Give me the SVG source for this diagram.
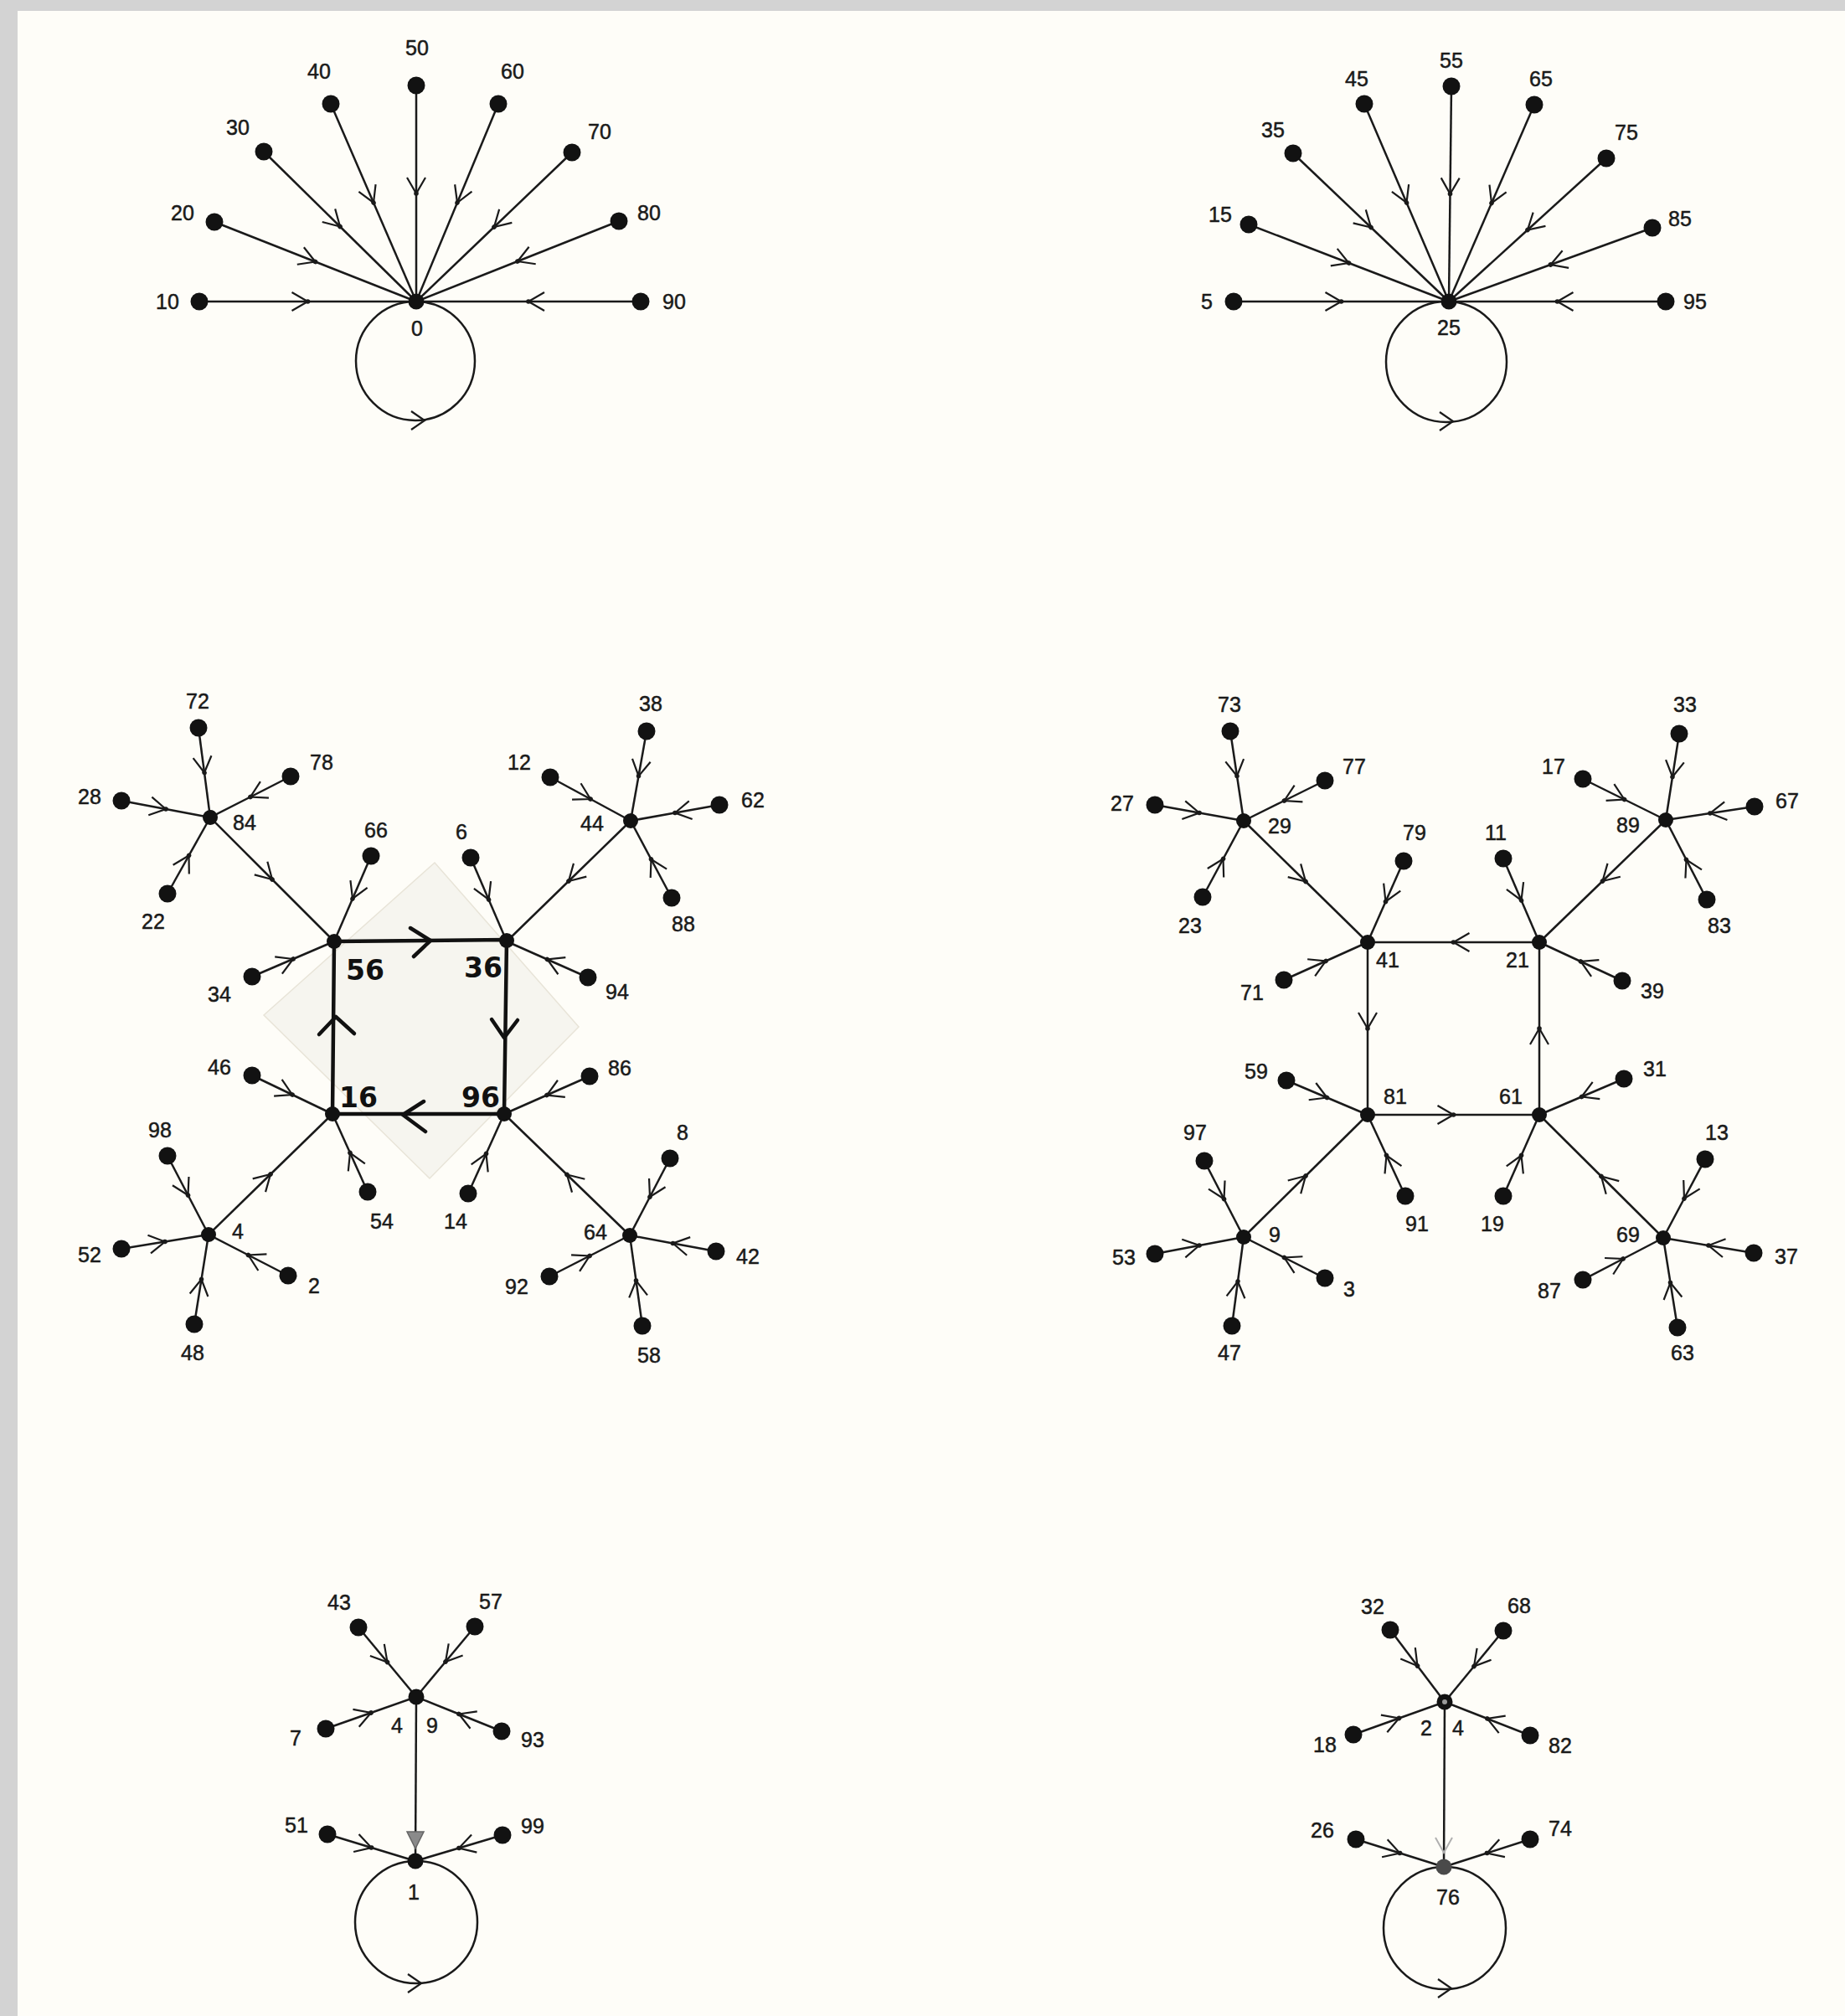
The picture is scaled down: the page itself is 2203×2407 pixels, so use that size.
<svg xmlns="http://www.w3.org/2000/svg" width="2203" height="2407" viewBox="0 0 2203 2407">
<defs>
<style>
.e{fill:none;stroke:#1a1a1a;stroke-width:2.5;marker-mid:url(#arr)}
.ep{fill:none;stroke:#1a1a1a;stroke-width:2.5}
.sq{fill:none;stroke:#111;stroke-width:4.5;stroke-linecap:round;stroke-linejoin:round}
.chev{fill:none;stroke:#111;stroke-width:4.5;stroke-linecap:round;stroke-linejoin:round}
.loop{fill:none;stroke:#1a1a1a;stroke-width:2.5}
.la{fill:none;stroke:#1a1a1a;stroke-width:2.2}
.leaf{fill:#121212}
.hub{fill:#121212}
.lbl{font-family:'Liberation Sans',Arial,sans-serif;font-size:25px;fill:#1a1a1a;stroke:#1a1a1a;stroke-width:0.5;text-anchor:middle}
.hw{font-family:'DejaVu Sans',sans-serif;font-weight:bold;font-size:33px;fill:#111;text-anchor:middle}
</style>
<marker id="arr" markerUnits="userSpaceOnUse" viewBox="-24 -16 30 32" markerWidth="30" markerHeight="32" refX="0" refY="0" orient="auto" overflow="visible">
<path d="M-19,-11 L0,0 L-19,11" fill="none" stroke="#1a1a1a" stroke-width="2.2"/>
<circle cx="0" cy="0" r="2.8" fill="#1a1a1a"/>
</marker>
</defs>
<rect x="0" y="0" width="2203" height="2407" fill="#d3d3d3"/>
<rect x="21" y="13" width="2182" height="2394" fill="#fefdf8"/>
<polygon points="519,1030 691,1226 513,1407 315,1212" fill="#f6f5ef" stroke="#e8e4d8" stroke-width="1.5"/>

<g id="connectors">
<!-- top-left fan -->
<path class="e" d="M238,360 L367.5,360 L497,360"/>
<path class="e" d="M256,265 L376.5,312.5 L497,360"/>
<path class="e" d="M315,181 L406,270.5 L497,360"/>
<path class="e" d="M395,124 L446,242 L497,360"/>
<path class="e" d="M497,102 L497,231 L497,360"/>
<path class="e" d="M595,124 L546,242 L497,360"/>
<path class="e" d="M683,182 L590,271 L497,360"/>
<path class="e" d="M739,264 L618,312 L497,360"/>
<path class="e" d="M765,360 L631,360 L497,360"/>
<circle class="loop" cx="496" cy="431" r="71"/>
<path class="la" d="M491,491 L507,502 L491,513"/>
<!-- top-right fan -->
<path class="e" d="M1473,360 L1601.5,360 L1730,360"/>
<path class="e" d="M1491,268 L1610.5,314 L1730,360"/>
<path class="e" d="M1544,183 L1637,271.5 L1730,360"/>
<path class="e" d="M1629,124 L1679.5,242 L1730,360"/>
<path class="e" d="M1733,103 L1731.5,231.5 L1730,360"/>
<path class="e" d="M1832,125 L1781,242.5 L1730,360"/>
<path class="e" d="M1918,189 L1824,274.5 L1730,360"/>
<path class="e" d="M1973,272 L1851.5,316 L1730,360"/>
<path class="e" d="M1989,360 L1859.5,360 L1730,360"/>
<circle class="loop" cx="1727" cy="432" r="72"/>
<path class="la" d="M1719,492 L1735,503 L1719,514"/>
<!-- middle-left -->
<path class="e" d="M237,869 L244,922.5 L251,976"/>
<path class="e" d="M347,927 L299,951.5 L251,976"/>
<path class="e" d="M145,956 L198,966 L251,976"/>
<path class="e" d="M200,1067 L225.5,1021.5 L251,976"/>
<path class="e" d="M251,976 L325,1050 L399,1124"/>
<path class="e" d="M443,1022 L421,1073 L399,1124"/>
<path class="e" d="M301,1166 L350,1145 L399,1124"/>
<path class="e" d="M562,1024 L583.5,1074 L605,1124"/>
<path class="e" d="M702,1167 L653.5,1145.5 L605,1124"/>
<path class="e" d="M753,980 L679,1052 L605,1124"/>
<path class="e" d="M772,873 L762.5,926.5 L753,980"/>
<path class="e" d="M657,928 L705,954 L753,980"/>
<path class="e" d="M859,961 L806,970.5 L753,980"/>
<path class="e" d="M802,1072 L777.5,1026 L753,980"/>
<path class="e" d="M301,1284 L349,1307 L397,1330"/>
<path class="e" d="M439,1423 L418,1376.5 L397,1330"/>
<path class="e" d="M249,1474 L323,1402 L397,1330"/>
<path class="e" d="M704,1285 L653,1307.5 L602,1330"/>
<path class="e" d="M559,1425 L580.5,1377.5 L602,1330"/>
<path class="e" d="M752,1475 L677,1402.5 L602,1330"/>
<path class="e" d="M200,1380 L224.5,1427 L249,1474"/>
<path class="e" d="M145,1491 L197,1482.5 L249,1474"/>
<path class="e" d="M344,1523 L296.5,1498.5 L249,1474"/>
<path class="e" d="M232,1581 L240.5,1527.5 L249,1474"/>
<path class="e" d="M800,1383 L776,1429 L752,1475"/>
<path class="e" d="M855,1494 L803.5,1484.5 L752,1475"/>
<path class="e" d="M656,1524 L704,1499.5 L752,1475"/>
<path class="e" d="M767,1583 L759.5,1529 L752,1475"/>
<path class="sq" d="M399,1124 L605,1122 L602,1330 L397,1330 Z"/>
<path class="chev" d="M490,1108 L514,1123 L494,1142"/>
<path class="chev" d="M587,1217 L602,1239 L618,1218"/>
<path class="chev" d="M506,1315 L481,1331 L508,1351"/>
<path class="chev" d="M381,1235 L401,1214 L423,1234"/>
<!-- middle-right -->
<path class="e" d="M1469,873 L1477,926.5 L1485,980"/>
<path class="e" d="M1582,932 L1533.5,956 L1485,980"/>
<path class="e" d="M1379,961 L1432,970.5 L1485,980"/>
<path class="e" d="M1436,1071 L1460.5,1025.5 L1485,980"/>
<path class="e" d="M1485,980 L1559,1052.5 L1633,1125"/>
<path class="e" d="M1676,1028 L1654.5,1076.5 L1633,1125"/>
<path class="e" d="M1533,1170 L1583,1147.5 L1633,1125"/>
<path class="e" d="M1795,1025 L1816.5,1075 L1838,1125"/>
<path class="e" d="M1937,1171 L1887.5,1148 L1838,1125"/>
<path class="e" d="M1989,979 L1913.5,1052 L1838,1125"/>
<path class="e" d="M2005,876 L1997,927.5 L1989,979"/>
<path class="e" d="M1890,930 L1939.5,954.5 L1989,979"/>
<path class="e" d="M2095,963 L2042,971 L1989,979"/>
<path class="e" d="M2038,1074 L2013.5,1026.5 L1989,979"/>
<path class="e" d="M1838,1125 L1735.5,1125 L1633,1125"/>
<path class="e" d="M1633,1125 L1633,1228 L1633,1331"/>
<path class="e" d="M1633,1331 L1735.5,1331 L1838,1331"/>
<path class="e" d="M1838,1331 L1838,1228 L1838,1125"/>
<path class="e" d="M1536,1290 L1584.5,1310.5 L1633,1331"/>
<path class="e" d="M1678,1428 L1655.5,1379.5 L1633,1331"/>
<path class="e" d="M1485,1477 L1559,1404 L1633,1331"/>
<path class="e" d="M1939,1288 L1888.5,1309.5 L1838,1331"/>
<path class="e" d="M1795,1428 L1816.5,1379.5 L1838,1331"/>
<path class="e" d="M1986,1478 L1912,1404.5 L1838,1331"/>
<path class="e" d="M1438,1386 L1461.5,1431.5 L1485,1477"/>
<path class="e" d="M1379,1497 L1432,1487 L1485,1477"/>
<path class="e" d="M1582,1526 L1533.5,1501.5 L1485,1477"/>
<path class="e" d="M1471,1583 L1478,1530 L1485,1477"/>
<path class="e" d="M2036,1384 L2011,1431 L1986,1478"/>
<path class="e" d="M2094,1496 L2040,1487 L1986,1478"/>
<path class="e" d="M1890,1528 L1938,1503 L1986,1478"/>
<path class="e" d="M2003,1585 L1994.5,1531.5 L1986,1478"/>
<!-- bottom-left -->
<path class="e" d="M428,1943 L462.5,1984.5 L497,2026"/>
<path class="e" d="M567,1942 L532,1984 L497,2026"/>
<path class="e" d="M389,2064 L443,2045 L497,2026"/>
<path class="e" d="M599,2067 L548,2046.5 L497,2026"/>
<path class="e" d="M391,2190 L443.5,2206 L496,2222"/>
<path class="e" d="M600,2191 L548,2206.5 L496,2222"/>
<path class="ep" d="M497,2026 L496,2222"/>
<path d="M486,2187 L506,2187 L496,2207 Z" fill="#8a8a8a" stroke="#666" stroke-width="1.5"/>
<circle class="loop" cx="497" cy="2295" r="73"/>
<path class="la" d="M487,2357 L503,2368 L487,2379"/>
<!-- bottom-right -->
<path class="e" d="M1660,1946 L1692.5,1989 L1725,2032"/>
<path class="e" d="M1795,1947 L1760,1989.5 L1725,2032"/>
<path class="e" d="M1616,2071 L1670.5,2051.5 L1725,2032"/>
<path class="e" d="M1827,2072 L1776,2052 L1725,2032"/>
<path class="e" d="M1619,2196 L1671.5,2212.5 L1724,2229"/>
<path class="e" d="M1827,2196 L1775.5,2212.5 L1724,2229"/>
<path class="ep" d="M1725,2032 L1724,2229"/>
<path d="M1714,2194 L1724,2212 L1734,2194" fill="none" stroke="#b0b0b0" stroke-width="2"/>
<circle class="loop" cx="1725" cy="2302" r="73"/>
<path class="la" d="M1717,2363 L1733,2374 L1717,2385"/>
</g>

<!-- top-left nodes -->
<g id="n0"><circle class="hub" cx="497" cy="360" r="9.5"/><text class="lbl" x="498" y="401">0</text></g>
<g id="n10"><circle class="leaf" cx="238" cy="360" r="10.5"/><text class="lbl" x="200" y="369">10</text></g>
<g id="n20"><circle class="leaf" cx="256" cy="265" r="10.5"/><text class="lbl" x="218" y="263">20</text></g>
<g id="n30"><circle class="leaf" cx="315" cy="181" r="10.5"/><text class="lbl" x="284" y="161">30</text></g>
<g id="n40"><circle class="leaf" cx="395" cy="124" r="10.5"/><text class="lbl" x="381" y="94">40</text></g>
<g id="n50"><circle class="leaf" cx="497" cy="102" r="10.5"/><text class="lbl" x="498" y="66">50</text></g>
<g id="n60"><circle class="leaf" cx="595" cy="124" r="10.5"/><text class="lbl" x="612" y="94">60</text></g>
<g id="n70"><circle class="leaf" cx="683" cy="182" r="10.5"/><text class="lbl" x="716" y="166">70</text></g>
<g id="n80"><circle class="leaf" cx="739" cy="264" r="10.5"/><text class="lbl" x="775" y="263">80</text></g>
<g id="n90"><circle class="leaf" cx="765" cy="360" r="10.5"/><text class="lbl" x="805" y="369">90</text></g>
<!-- top-right nodes -->
<g id="n25"><circle class="hub" cx="1730" cy="360" r="9.5"/><text class="lbl" x="1730" y="400">25</text></g>
<g id="n5"><circle class="leaf" cx="1473" cy="360" r="10.5"/><text class="lbl" x="1441" y="369">5</text></g>
<g id="n15"><circle class="leaf" cx="1491" cy="268" r="10.5"/><text class="lbl" x="1457" y="265">15</text></g>
<g id="n35"><circle class="leaf" cx="1544" cy="183" r="10.5"/><text class="lbl" x="1520" y="164">35</text></g>
<g id="n45"><circle class="leaf" cx="1629" cy="124" r="10.5"/><text class="lbl" x="1620" y="103">45</text></g>
<g id="n55"><circle class="leaf" cx="1733" cy="103" r="10.5"/><text class="lbl" x="1733" y="81">55</text></g>
<g id="n65"><circle class="leaf" cx="1832" cy="125" r="10.5"/><text class="lbl" x="1840" y="103">65</text></g>
<g id="n75"><circle class="leaf" cx="1918" cy="189" r="10.5"/><text class="lbl" x="1942" y="167">75</text></g>
<g id="n85"><circle class="leaf" cx="1973" cy="272" r="10.5"/><text class="lbl" x="2006" y="270">85</text></g>
<g id="n95"><circle class="leaf" cx="1989" cy="360" r="10.5"/><text class="lbl" x="2024" y="369">95</text></g>
<!-- middle-left nodes -->
<g id="n84"><circle class="hub" cx="251" cy="976" r="9"/><text class="lbl" x="292" y="991">84</text></g>
<g id="n72"><circle class="leaf" cx="237" cy="869" r="10.5"/><text class="lbl" x="236" y="846">72</text></g>
<g id="n78"><circle class="leaf" cx="347" cy="927" r="10.5"/><text class="lbl" x="384" y="919">78</text></g>
<g id="n28"><circle class="leaf" cx="145" cy="956" r="10.5"/><text class="lbl" x="107" y="960">28</text></g>
<g id="n22"><circle class="leaf" cx="200" cy="1067" r="10.5"/><text class="lbl" x="183" y="1109">22</text></g>
<g id="n56"><circle class="hub" cx="399" cy="1124" r="9"/><text class="hw" x="436" y="1170">56</text></g>
<g id="n66"><circle class="leaf" cx="443" cy="1022" r="10.5"/><text class="lbl" x="449" y="1000">66</text></g>
<g id="n34"><circle class="leaf" cx="301" cy="1166" r="10.5"/><text class="lbl" x="262" y="1196">34</text></g>
<g id="n36"><circle class="hub" cx="605" cy="1123" r="9"/><text class="hw" x="577" y="1167">36</text></g>
<g id="n6"><circle class="leaf" cx="562" cy="1024" r="10.5"/><text class="lbl" x="551" y="1002">6</text></g>
<g id="n94"><circle class="leaf" cx="702" cy="1167" r="10.5"/><text class="lbl" x="737" y="1193">94</text></g>
<g id="n44"><circle class="hub" cx="753" cy="980" r="9"/><text class="lbl" x="707" y="992">44</text></g>
<g id="n38"><circle class="leaf" cx="772" cy="873" r="10.5"/><text class="lbl" x="777" y="849">38</text></g>
<g id="n12"><circle class="leaf" cx="657" cy="928" r="10.5"/><text class="lbl" x="620" y="919">12</text></g>
<g id="n62"><circle class="leaf" cx="859" cy="961" r="10.5"/><text class="lbl" x="899" y="964">62</text></g>
<g id="n88"><circle class="leaf" cx="802" cy="1072" r="10.5"/><text class="lbl" x="816" y="1112">88</text></g>
<g id="n16"><circle class="hub" cx="397" cy="1330" r="9"/><text class="hw" x="428" y="1322">16</text></g>
<g id="n46"><circle class="leaf" cx="301" cy="1284" r="10.5"/><text class="lbl" x="262" y="1283">46</text></g>
<g id="n54"><circle class="leaf" cx="439" cy="1423" r="10.5"/><text class="lbl" x="456" y="1467">54</text></g>
<g id="n96"><circle class="hub" cx="602" cy="1330" r="9"/><text class="hw" x="574" y="1322">96</text></g>
<g id="n86"><circle class="leaf" cx="704" cy="1285" r="10.5"/><text class="lbl" x="740" y="1284">86</text></g>
<g id="n14"><circle class="leaf" cx="559" cy="1425" r="10.5"/><text class="lbl" x="544" y="1467">14</text></g>
<g id="n4"><circle class="hub" cx="249" cy="1474" r="9"/><text class="lbl" x="284" y="1479">4</text></g>
<g id="n98"><circle class="leaf" cx="200" cy="1380" r="10.5"/><text class="lbl" x="191" y="1358">98</text></g>
<g id="n52"><circle class="leaf" cx="145" cy="1491" r="10.5"/><text class="lbl" x="107" y="1507">52</text></g>
<g id="n2"><circle class="leaf" cx="344" cy="1523" r="10.5"/><text class="lbl" x="375" y="1544">2</text></g>
<g id="n48"><circle class="leaf" cx="232" cy="1581" r="10.5"/><text class="lbl" x="230" y="1624">48</text></g>
<g id="n64"><circle class="hub" cx="752" cy="1475" r="9"/><text class="lbl" x="711" y="1480">64</text></g>
<g id="n8"><circle class="leaf" cx="800" cy="1383" r="10.5"/><text class="lbl" x="815" y="1361">8</text></g>
<g id="n42"><circle class="leaf" cx="855" cy="1494" r="10.5"/><text class="lbl" x="893" y="1509">42</text></g>
<g id="n92"><circle class="leaf" cx="656" cy="1524" r="10.5"/><text class="lbl" x="617" y="1545">92</text></g>
<g id="n58"><circle class="leaf" cx="767" cy="1583" r="10.5"/><text class="lbl" x="775" y="1627">58</text></g>
<!-- middle-right nodes -->
<g id="n29"><circle class="hub" cx="1485" cy="980" r="9"/><text class="lbl" x="1528" y="995">29</text></g>
<g id="n73"><circle class="leaf" cx="1469" cy="873" r="10.5"/><text class="lbl" x="1468" y="850">73</text></g>
<g id="n77"><circle class="leaf" cx="1582" cy="932" r="10.5"/><text class="lbl" x="1617" y="924">77</text></g>
<g id="n27"><circle class="leaf" cx="1379" cy="961" r="10.5"/><text class="lbl" x="1340" y="968">27</text></g>
<g id="n23"><circle class="leaf" cx="1436" cy="1071" r="10.5"/><text class="lbl" x="1421" y="1114">23</text></g>
<g id="n41"><circle class="hub" cx="1633" cy="1125" r="9"/><text class="lbl" x="1657" y="1155">41</text></g>
<g id="n79"><circle class="leaf" cx="1676" cy="1028" r="10.5"/><text class="lbl" x="1689" y="1003">79</text></g>
<g id="n71"><circle class="leaf" cx="1533" cy="1170" r="10.5"/><text class="lbl" x="1495" y="1194">71</text></g>
<g id="n21"><circle class="hub" cx="1838" cy="1125" r="9"/><text class="lbl" x="1812" y="1155">21</text></g>
<g id="n11"><circle class="leaf" cx="1795" cy="1025" r="10.5"/><text class="lbl" x="1786" y="1003">11</text></g>
<g id="n39"><circle class="leaf" cx="1937" cy="1171" r="10.5"/><text class="lbl" x="1973" y="1192">39</text></g>
<g id="n89"><circle class="hub" cx="1989" cy="979" r="9"/><text class="lbl" x="1944" y="994">89</text></g>
<g id="n33"><circle class="leaf" cx="2005" cy="876" r="10.5"/><text class="lbl" x="2012" y="850">33</text></g>
<g id="n17"><circle class="leaf" cx="1890" cy="930" r="10.5"/><text class="lbl" x="1855" y="924">17</text></g>
<g id="n67"><circle class="leaf" cx="2095" cy="963" r="10.5"/><text class="lbl" x="2134" y="965">67</text></g>
<g id="n83"><circle class="leaf" cx="2038" cy="1074" r="10.5"/><text class="lbl" x="2053" y="1114">83</text></g>
<g id="n81"><circle class="hub" cx="1633" cy="1331" r="9"/><text class="lbl" x="1666" y="1318">81</text></g>
<g id="n59"><circle class="leaf" cx="1536" cy="1290" r="10.5"/><text class="lbl" x="1500" y="1288">59</text></g>
<g id="n91"><circle class="leaf" cx="1678" cy="1428" r="10.5"/><text class="lbl" x="1692" y="1470">91</text></g>
<g id="n61"><circle class="hub" cx="1838" cy="1331" r="9"/><text class="lbl" x="1804" y="1318">61</text></g>
<g id="n31"><circle class="leaf" cx="1939" cy="1288" r="10.5"/><text class="lbl" x="1976" y="1285">31</text></g>
<g id="n19"><circle class="leaf" cx="1795" cy="1428" r="10.5"/><text class="lbl" x="1782" y="1470">19</text></g>
<g id="n9"><circle class="hub" cx="1485" cy="1477" r="9"/><text class="lbl" x="1522" y="1483">9</text></g>
<g id="n97"><circle class="leaf" cx="1438" cy="1386" r="10.5"/><text class="lbl" x="1427" y="1361">97</text></g>
<g id="n53"><circle class="leaf" cx="1379" cy="1497" r="10.5"/><text class="lbl" x="1342" y="1510">53</text></g>
<g id="n3"><circle class="leaf" cx="1582" cy="1526" r="10.5"/><text class="lbl" x="1611" y="1548">3</text></g>
<g id="n47"><circle class="leaf" cx="1471" cy="1583" r="10.5"/><text class="lbl" x="1468" y="1624">47</text></g>
<g id="n69"><circle class="hub" cx="1986" cy="1478" r="9"/><text class="lbl" x="1944" y="1483">69</text></g>
<g id="n13"><circle class="leaf" cx="2036" cy="1384" r="10.5"/><text class="lbl" x="2050" y="1361">13</text></g>
<g id="n37"><circle class="leaf" cx="2094" cy="1496" r="10.5"/><text class="lbl" x="2133" y="1509">37</text></g>
<g id="n87"><circle class="leaf" cx="1890" cy="1528" r="10.5"/><text class="lbl" x="1850" y="1550">87</text></g>
<g id="n63"><circle class="leaf" cx="2003" cy="1585" r="10.5"/><text class="lbl" x="2009" y="1624">63</text></g>
<!-- bottom-left nodes -->
<g id="n49"><circle class="hub" cx="497" cy="2026" r="9.5"/><text class="lbl" x="474" y="2069">4</text><text class="lbl" x="516" y="2069">9</text></g>
<g id="n43"><circle class="leaf" cx="428" cy="1943" r="10.5"/><text class="lbl" x="405" y="1922">43</text></g>
<g id="n57"><circle class="leaf" cx="567" cy="1942" r="10.5"/><text class="lbl" x="586" y="1921">57</text></g>
<g id="n7"><circle class="leaf" cx="389" cy="2064" r="10.5"/><text class="lbl" x="353" y="2084">7</text></g>
<g id="n93"><circle class="leaf" cx="599" cy="2067" r="10.5"/><text class="lbl" x="636" y="2086">93</text></g>
<g id="n1"><circle class="hub" cx="496" cy="2222" r="9.5"/><text class="lbl" x="494" y="2268">1</text></g>
<g id="n51"><circle class="leaf" cx="391" cy="2190" r="10.5"/><text class="lbl" x="354" y="2188">51</text></g>
<g id="n99"><circle class="leaf" cx="600" cy="2191" r="10.5"/><text class="lbl" x="636" y="2189">99</text></g>
<!-- bottom-right nodes -->
<g id="n24"><circle class="hub" cx="1725" cy="2032" r="9.5"/><circle cx="1725" cy="2032" r="3" fill="#9a9a9a"/><text class="lbl" x="1703" y="2072">2</text><text class="lbl" x="1741" y="2072">4</text></g>
<g id="n32"><circle class="leaf" cx="1660" cy="1946" r="10.5"/><text class="lbl" x="1639" y="1927">32</text></g>
<g id="n68"><circle class="leaf" cx="1795" cy="1947" r="10.5"/><text class="lbl" x="1814" y="1926">68</text></g>
<g id="n18"><circle class="leaf" cx="1616" cy="2071" r="10.5"/><text class="lbl" x="1582" y="2092">18</text></g>
<g id="n82"><circle class="leaf" cx="1827" cy="2072" r="10.5"/><text class="lbl" x="1863" y="2093">82</text></g>
<g id="n76"><circle cx="1724" cy="2229" r="9.5" fill="#4a4a4a"/><text class="lbl" x="1729" y="2274">76</text></g>
<g id="n26"><circle class="leaf" cx="1619" cy="2196" r="10.5"/><text class="lbl" x="1579" y="2194">26</text></g>
<g id="n74"><circle class="leaf" cx="1827" cy="2196" r="10.5"/><text class="lbl" x="1863" y="2192">74</text></g>
</svg>
